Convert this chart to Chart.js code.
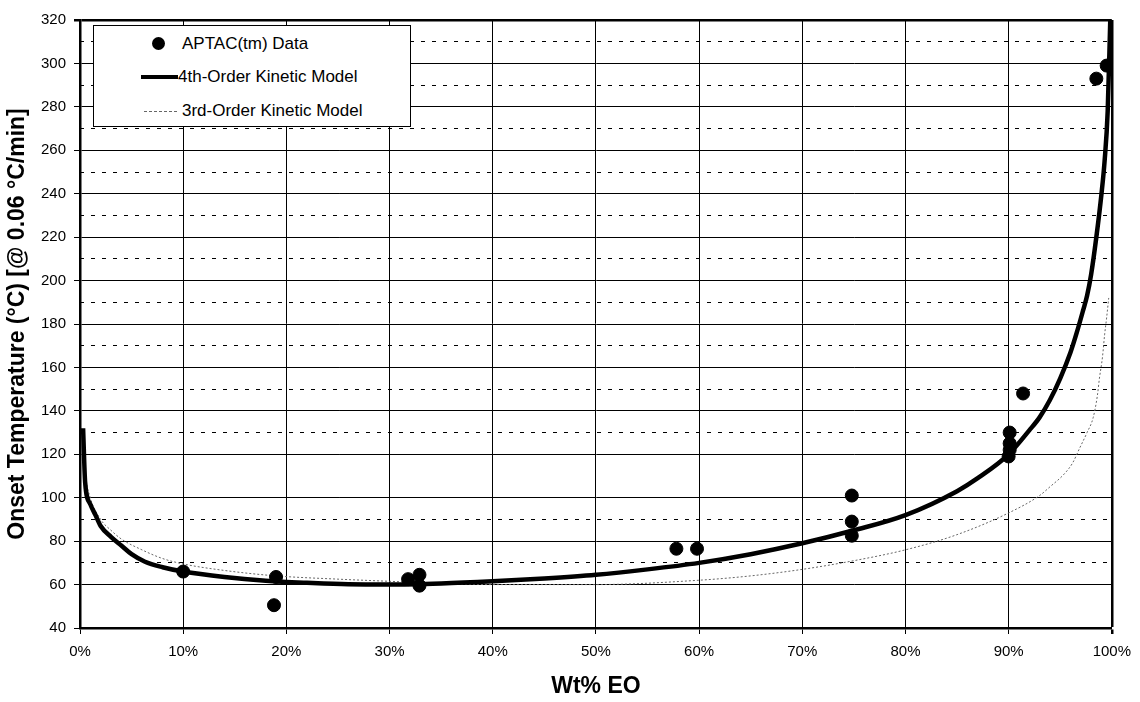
<!DOCTYPE html>
<html>
<head>
<meta charset="utf-8">
<script src="https://cdn.jsdelivr.net/npm/chart.js@4.4.1/dist/chart.umd.min.js"></script>
<style>
    html, body { margin: 0; padding: 0; background: #fff; }
    #wrap { position: relative; width: 1140px; height: 702px; }
    #legendBox {
        position: absolute; left: 93px; top: 25px; width: 318px; height: 102px;
        background: #fff; border: 1px solid #000; box-sizing: border-box;
        font-family: 'Liberation Sans', Arial, sans-serif; font-size: 17px; color: #000;
    }
    .legend-item { position: absolute; left: 0; height: 20px; display: flex; align-items: center; }
    .legend-icon { position: relative; width: 84px; height: 20px; }
    .legend-text { margin-left: 4px; white-space: nowrap; }
</style>
</head>
<body>
<div id="wrap">
    <canvas id="chart" width="1140" height="702"></canvas>
    <div id="legendBox"></div>
</div>
<script>
// Measured points (Wt% EO, onset temperature in °C)
const dataWt = [10, 19, 18.8, 31.8, 32.9, 32.9, 57.8, 59.8, 74.8, 74.8, 74.8, 90.1, 90.1, 90.1, 90, 91.4, 98.5, 99.5];
const dataTemp = [66, 63.5, 50.5, 62.5, 64.5, 59.5, 76.5, 76.5, 101, 89, 82.5, 130, 125, 122, 119, 148, 293, 299];

// 4th-order kinetic model curve
const fourthWt = [0.3, 0.5, 1, 1.5, 2, 3, 4, 5, 6.3, 8, 10, 14, 18, 22, 26, 30, 35, 40, 45, 50, 55, 60, 65, 70, 75, 80, 85, 87, 90, 92, 93, 94, 95, 96, 96.6, 97.2, 97.6, 98, 98.5, 99, 99.3, 99.6, 99.85];
const fourthTemp = [132, 107, 97, 92, 87, 82, 78, 74, 70.5, 68, 66, 63.5, 61.8, 60.8, 60.1, 60, 60.5, 61.5, 62.8, 64.5, 67, 70, 74, 79, 85, 92, 103, 109, 120, 131, 137, 145, 155, 167, 176, 186, 193, 203, 220, 240, 255, 278, 320];

// 3rd-order kinetic model curve
const thirdWt = [0.3, 0.5, 1, 2, 3, 4, 6, 8, 10, 14, 19, 25, 30, 35, 40, 45, 50, 60, 65, 70, 75, 80, 85, 90, 93, 94, 95.4, 96.2, 96.9, 97.6, 98.2, 98.6, 98.8, 99.1, 99.3, 99.5, 99.7];
const thirdTemp = [128, 112, 100, 90, 85, 81, 76, 72, 69.5, 66.5, 64, 62.5, 61.5, 60.5, 60, 60, 60, 62, 64, 67, 71, 76, 83, 93, 101, 105, 111, 116, 123, 130, 137, 147, 155, 165, 175, 183, 192];

// Axis ranges and dashed minor gridlines
const yMin = 40, yMax = 320, yStep = 20;
const xMin = 0, xMax = 100, xStep = 10;
const minorGridValues = [70, 90, 130, 150, 170, 190, 210, 230, 250, 270, 290, 310];

const toPoints = (xs, ys) => xs.map((x, i) => ({ x: x, y: ys[i] }));

Chart.defaults.font.family = "'Liberation Sans', Arial, sans-serif";
Chart.defaults.color = '#000';

const chart = new Chart(document.getElementById('chart'), {
    type: 'scatter',
    data: {
        datasets: [
            {
                label: 'APTAC(tm) Data',
                data: toPoints(dataWt, dataTemp),
                backgroundColor: '#000',
                borderColor: '#000',
                pointRadius: 6.5,
                pointHoverRadius: 6.5,
                order: 0
            },
            {
                label: '4th-Order Kinetic Model',
                type: 'line',
                data: toPoints(fourthWt, fourthTemp),
                borderColor: '#000',
                borderWidth: 4.5,
                pointRadius: 0,
                cubicInterpolationMode: 'monotone',
                order: 1
            },
            {
                label: '3rd-Order Kinetic Model',
                type: 'line',
                data: toPoints(thirdWt, thirdTemp),
                borderColor: '#666',
                borderWidth: 1,
                borderDash: [2, 2],
                pointRadius: 0,
                cubicInterpolationMode: 'monotone',
                order: 2
            }
        ]
    },
    options: {
        responsive: false,
        animation: false,
        layout: { padding: { top: 20, right: 28, bottom: 0, left: 0 } },
        plugins: {
            legend: { display: false },
            tooltip: { enabled: false }
        },
        scales: {
            x: {
                type: 'linear',
                min: xMin,
                max: xMax,
                ticks: {
                    stepSize: xStep,
                    font: { size: 15 },
                    padding: 9,
                    callback: (v) => v + '%'
                },
                grid: {
                    color: '#000',
                    lineWidth: (ctx) => (ctx.tick && ctx.tick.value === xMax ? 2.5 : 1),
                    tickLength: 6
                },
                border: { color: '#000', width: 2.5 },
                title: {
                    display: true,
                    text: 'Wt% EO',
                    font: { size: 23, weight: 'bold' },
                    padding: { top: 0, bottom: 2 }
                },
                afterFit: (scale) => { scale.height = 74; }
            },
            y: {
                type: 'linear',
                min: yMin,
                max: yMax,
                ticks: {
                    stepSize: yStep,
                    font: { size: 15 },
                    padding: 8
                },
                grid: {
                    color: '#000',
                    lineWidth: (ctx) => (ctx.tick && ctx.tick.value === yMax ? 2.5 : 1),
                    tickLength: 6
                },
                border: { color: '#000', width: 2.5 },
                title: {
                    display: true,
                    text: 'Onset Temperature (°C) [@ 0.06 °C/min]',
                    font: { size: 23, weight: 'bold' },
                    padding: { top: 4, bottom: 0 }
                },
                afterFit: (scale) => { scale.width = 80; }
            },
            yMinor: {
                type: 'linear',
                position: 'left',
                min: yMin,
                max: yMax,
                afterBuildTicks: (scale) => {
                    scale.ticks = minorGridValues.map(v => ({ value: v }));
                },
                ticks: { display: false },
                grid: {
                    color: '#000',
                    lineWidth: 1,
                    drawTicks: false
                },
                border: { display: false, dash: [4, 7] },
                afterFit: (scale) => { scale.width = 0; }
            }
        }
    }
});

// Legend box drawn inside the plot, built from the datasets
const buildLegend = () => {
    const box = document.getElementById('legendBox');
    const rows = [8, 41, 75];
    box.innerHTML = chart.data.datasets.map((ds, i) => {
        let icon = '';
        if (i === 0) {
            icon = '<div style="position:absolute;left:58px;top:3px;width:13px;height:13px;border-radius:50%;background:#000"></div>';
        } else if (i === 1) {
            icon = '<div style="position:absolute;left:47px;top:8px;width:37px;height:0;border-top:4px solid #000"></div>';
        } else {
            icon = '<div style="position:absolute;left:50px;top:10px;width:33px;height:0;border-top:1px dashed #666"></div>';
        }
        const gap = i === 1 ? 0 : 4;
        return `<div class="legend-item" style="top:${rows[i]}px">
                    <div class="legend-icon">${icon}</div>
                    <div class="legend-text" style="margin-left:${gap}px">${ds.label}</div>
                </div>`;
    }).join('');
};
buildLegend();
</script>
</body>
</html>
